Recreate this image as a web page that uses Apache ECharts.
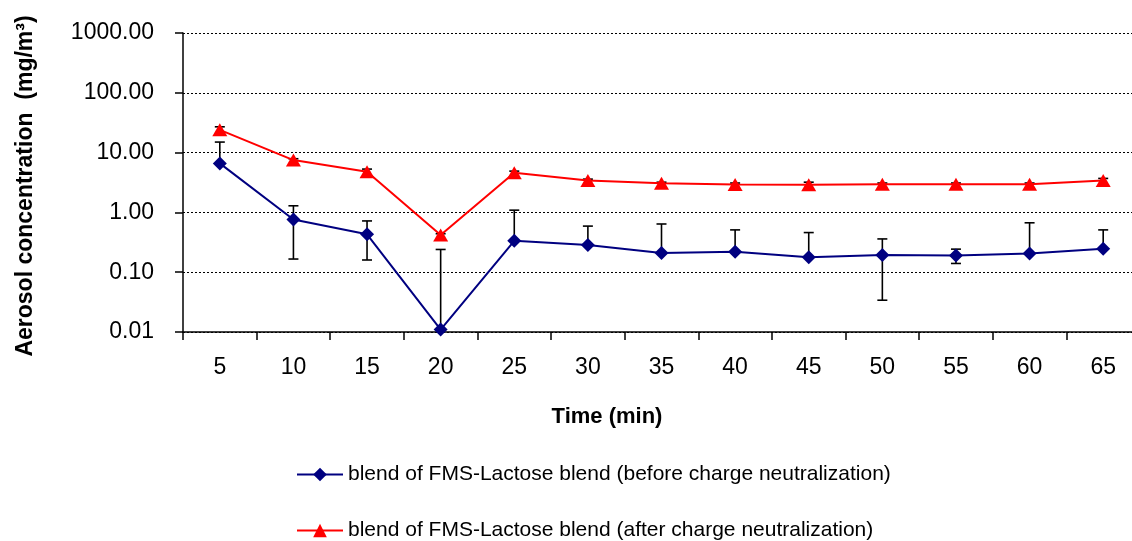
<!DOCTYPE html>
<html>
<head>
<meta charset="utf-8">
<script src="https://cdn.jsdelivr.net/npm/echarts@6/dist/echarts.min.js"></script>
<style>
html,body{margin:0;padding:0;background:#fff;}
#c{width:1132px;height:541px;}
</style>
</head>
<body>
<div id="c"></div>
<script>
const categories = ['5','10','15','20','25','30','35','40','45','50','55','60','65'];
const yTickLabels = ['0.01','0.10','1.00','10.00','100.00','1000.00'];
const beforeName = 'blend of FMS-Lactose blend (before charge neutralization)';
const afterName = 'blend of FMS-Lactose blend (after charge neutralization)';
const beforeValues = [6.6, 0.76, 0.43, 0.011, 0.335, 0.284, 0.21, 0.22, 0.178, 0.193, 0.19, 0.206, 0.246];
const beforeErrHigh = [15, 1.29, 0.72, 0.24, 1.09, 0.59, 0.64, 0.51, 0.46, 0.36, 0.243, 0.67, 0.51];
const beforeErrLow = [null, 0.166, 0.16, null, null, null, null, null, null, 0.034, 0.14, null, null];
const afterValues = [24, 7.5, 4.8, 0.42, 4.6, 3.4, 3.06, 2.94, 2.9, 2.95, 2.95, 2.95, 3.4];
const afterErrHigh = [27, 7.9, 5.3, 0.44, 4.9, 3.6, 3.2, 3.1, 3.2, 3.1, 3.1, 3.1, 3.7];
const afterErrLow = [null, null, null, null, null, null, null, null, null, null, null, null, null];

const FONT = '"Liberation Sans", Arial, sans-serif';

function errData(vals, hi, lo) {
  return vals.map((v, i) => [i, v, hi[i], lo[i] == null ? -1 : lo[i]]);
}

function renderErr(params, api) {
  const x = api.value(0), mean = api.value(1), hi = api.value(2), lo = api.value(3);
  const pm = api.coord([x, mean]);
  const ph = api.coord([x, hi]);
  const hasLo = lo > 0;
  const pl = hasLo ? api.coord([x, lo]) : pm;
  const cw = 5;
  const st = {stroke: '#000', lineWidth: 1.6};
  const children = [
    {type: 'line', shape: {x1: pm[0], y1: ph[1], x2: pm[0], y2: pl[1]}, style: st},
    {type: 'line', shape: {x1: pm[0] - cw, y1: ph[1], x2: pm[0] + cw, y2: ph[1]}, style: st}
  ];
  if (hasLo) children.push({type: 'line', shape: {x1: pm[0] - cw, y1: pl[1], x2: pm[0] + cw, y2: pl[1]}, style: st});
  return {type: 'group', children};
}

const legendCommon = {
  orient: 'horizontal',
  left: 291,
  itemWidth: 46,
  itemHeight: 17,
  itemGap: 10,
  textStyle: {color: '#000', fontFamily: FONT, fontSize: 21}
};

const chart = echarts.init(document.getElementById('c'), null, {renderer: 'canvas'});
chart.setOption({
  animation: false,
  backgroundColor: '#fff',
  grid: {left: 183, top: 33, right: -8, bottom: 209, containLabel: false, outerBoundsMode: 'none'},
  xAxis: {
    type: 'category',
    data: categories,
    boundaryGap: true,
    axisLine: {lineStyle: {color: '#000', width: 1.5}},
    axisTick: {show: true, alignWithLabel: false, length: 8, lineStyle: {color: '#000', width: 1.5}},
    axisLabel: {color: '#000', fontFamily: FONT, fontSize: 23, margin: 24},
    splitLine: {show: false}
  },
  yAxis: {
    type: 'log',
    logBase: 10,
    min: 0.01,
    max: 1000,
    axisLine: {show: true, lineStyle: {color: '#000', width: 1.5}},
    axisTick: {show: true, inside: false, length: 8, lineStyle: {color: '#000', width: 1.5}},
    axisLabel: {
      color: '#000', fontFamily: FONT, fontSize: 23, margin: 29,
      formatter: v => {
        const e = Math.round(Math.log10(v));
        return yTickLabels[e + 2] !== undefined ? yTickLabels[e + 2] : '';
      }
    },
    splitLine: {show: true, lineStyle: {color: '#000', type: [2, 2], width: 1}},
    minorTick: {show: false}
  },
  legend: [
    Object.assign({}, legendCommon, {top: 459, data: [beforeName]}),
    Object.assign({}, legendCommon, {top: 515, data: [afterName]})
  ],
  graphic: [
    {
      type: 'text',
      x: 607, y: 417,
      style: {text: 'Time (min)', fill: '#000', font: 'bold 22px ' + FONT, align: 'center', verticalAlign: 'middle'}
    },
    {
      type: 'text',
      x: 26, y: 186,
      rotation: Math.PI / 2,
      style: {text: 'Aerosol concentration  (mg/m³)', fill: '#000', font: 'bold 23px ' + FONT, align: 'center', verticalAlign: 'middle'}
    }
  ],
  series: [
    {
      type: 'custom',
      name: 'errBefore',
      renderItem: renderErr,
      encode: {x: 0, y: 1},
      data: errData(beforeValues, beforeErrHigh, beforeErrLow),
      z: 1,
      silent: true
    },
    {
      type: 'custom',
      name: 'errAfter',
      renderItem: renderErr,
      encode: {x: 0, y: 1},
      data: errData(afterValues, afterErrHigh, afterErrLow),
      z: 1,
      silent: true
    },
    {
      type: 'line',
      name: beforeName,
      data: beforeValues,
      symbol: 'diamond',
      symbolSize: 14,
      color: '#000080',
      lineStyle: {color: '#000080', width: 2},
      itemStyle: {color: '#000080'},
      z: 3
    },
    {
      type: 'line',
      name: afterName,
      data: afterValues,
      symbol: 'triangle',
      symbolSize: [15, 13],
      color: '#ff0000',
      lineStyle: {color: '#ff0000', width: 2},
      itemStyle: {color: '#ff0000'},
      z: 4
    }
  ]
});
</script>
</body>
</html>
